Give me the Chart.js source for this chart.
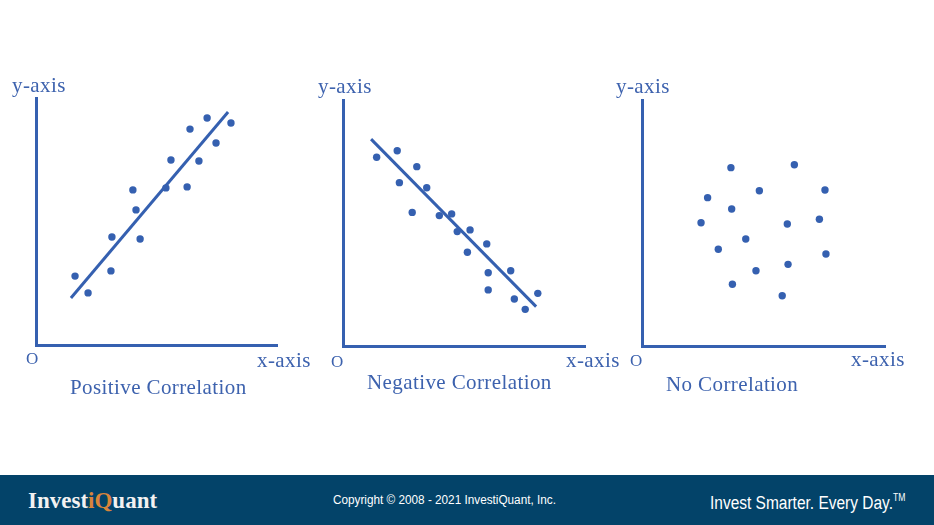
<!DOCTYPE html>
<html lang="en">
<head>
    <meta charset="UTF-8">
    <title>Correlation Scatter Plots</title>
    <script src="https://cdn.jsdelivr.net/npm/chart.js"></script>
    <style>
        body {
            margin: 0;
            width: 934px;
            height: 525px;
            position: relative;
            overflow: hidden;
            background: #ffffff;
        }
        .plot {
            position: absolute;
            top: 60px;
            width: 310px;
            height: 300px;
        }
        .lbl {
            position: absolute;
            font-family: "Liberation Serif", "Times New Roman", serif;
            font-size: 21px;
            line-height: 21px;
            color: #3d62ae;
            white-space: nowrap;
            letter-spacing: 0.4px;
        }
        .origin {
            font-size: 17px;
            line-height: 17px;
        }
        #footer {
            position: absolute;
            left: 0;
            top: 475px;
            width: 934px;
            height: 50px;
            background: #034369;
            color: #ffffff;
        }
        #footer div {
            position: absolute;
            white-space: nowrap;
        }
        #logo {
            left: 28px;
            top: 14px;
            font-family: "Liberation Serif", "Times New Roman", serif;
            font-weight: bold;
            font-size: 23px;
            line-height: 23px;
            color: #f2f2f2;
        }
        #logo span { color: #d9843b; }
        #copy {
            left: 333px;
            top: 19px;
            font-family: "Liberation Sans", Arial, sans-serif;
            font-size: 12.5px;
            line-height: 13px;
            transform: scaleX(0.94);
            transform-origin: left top;
        }
        #slogan {
            left: 710px;
            top: 14px;
            font-family: "Liberation Sans", Arial, sans-serif;
            font-size: 18px;
            line-height: 18px;
            transform: scaleX(0.86);
            transform-origin: left top;
        }
        #slogan sup { font-size: 10px; vertical-align: 8px; }
    </style>
</head>
<body>

<div class="plot" style="left:0px;"><canvas id="posChart"></canvas></div>
<div class="plot" style="left:305px;"><canvas id="negChart"></canvas></div>
<div class="plot" style="left:610px;"><canvas id="noneChart"></canvas></div>

<!-- labels round each plot -->
<div class="lbl" style="left:12px; top:75px;">y-axis</div>
<div class="lbl origin" style="left:26px; top:350px;">O</div>
<div class="lbl" style="left:257px; top:350px;">x-axis</div>
<div class="lbl" style="left:70px; top:377px;">Positive Correlation</div>

<div class="lbl" style="left:318px; top:76px;">y-axis</div>
<div class="lbl origin" style="left:331px; top:353px;">O</div>
<div class="lbl" style="left:566px; top:350px;">x-axis</div>
<div class="lbl" style="left:367px; top:372px;">Negative Correlation</div>

<div class="lbl" style="left:616px; top:76px;">y-axis</div>
<div class="lbl origin" style="left:630px; top:352px;">O</div>
<div class="lbl" style="left:851px; top:349px;">x-axis</div>
<div class="lbl" style="left:666px; top:374px;">No Correlation</div>

<div id="footer">
    <div id="logo">Invest<span>iQ</span>uant</div>
    <div id="copy">Copyright © 2008 - 2021 InvestiQuant, Inc.</div>
    <div id="slogan">Invest Smarter. Every Day.<sup>TM</sup></div>
</div>

<script>
    // Positive correlation
    const posX = [1.62, 2.16, 3.11, 3.15, 4.02, 4.15, 4.32, 5.39, 5.60, 6.27, 6.39, 6.76, 7.10, 7.47, 8.09];
    const posY = [2.79, 2.11, 3.00, 4.37, 6.28, 5.47, 4.29, 6.36, 7.49, 6.40, 8.74, 7.45, 9.19, 8.18, 8.99];
    const posLineX = [1.45, 7.97];
    const posLineY = [1.90, 9.43];

    // Negative correlation
    const negX = [1.39, 2.24, 2.33, 3.05, 2.86, 3.46, 3.98, 4.49, 4.72, 5.25, 5.14, 5.94, 6.00, 6.00, 6.93, 7.08, 7.53, 8.05];
    const negY = [7.67, 7.94, 6.64, 7.29, 5.43, 6.43, 5.30, 5.37, 4.65, 4.72, 3.81, 4.15, 2.98, 2.28, 3.06, 1.91, 1.49, 2.14];
    const negLineX = [1.16, 7.98];
    const negLineY = [8.41, 1.60];

    // No correlation
    const noneX = [3.66, 6.27, 4.83, 7.53, 2.70, 3.69, 2.43, 5.98, 7.30, 4.27, 3.14, 7.57, 6.01, 4.69, 3.72, 5.77];
    const noneY = [7.25, 7.37, 6.31, 6.34, 6.03, 5.57, 5.01, 4.96, 5.15, 4.35, 3.93, 3.74, 3.32, 3.06, 2.51, 2.04];

    const blue = '#3560b0';

    function toPoints(xs, ys) {
        return xs.map((x, i) => ({ x: x, y: ys[i] }));
    }

    function makeChart(id, xs, ys, lineX, lineY, pad) {
        const datasets = [{
            data: toPoints(xs, ys),
            pointRadius: 3.7,
            pointBackgroundColor: blue,
            pointBorderWidth: 0
        }];
        if (lineX) {
            datasets.push({
                data: toPoints(lineX, lineY),
                showLine: true,
                borderColor: blue,
                borderWidth: 3,
                pointRadius: 0
            });
        }
        const axis = {
            type: 'linear',
            min: 0,
            max: 10,
            grid: { display: false, drawTicks: false },
            ticks: { display: false },
            border: { display: true, color: blue, width: 3 }
        };
        return new Chart(document.getElementById(id), {
            type: 'scatter',
            data: { datasets: datasets },
            options: {
                responsive: true,
                maintainAspectRatio: false,
                animation: false,
                layout: { padding: pad },
                plugins: { legend: { display: false }, tooltip: { enabled: false } },
                scales: { x: axis, y: axis }
            }
        });
    }

    makeChart('posChart', posX, posY, posLineX, posLineY, { left: 36, top: 38, right: 33, bottom: 15 });
    makeChart('negChart', negX, negY, negLineX, negLineY, { left: 38, top: 40, right: 30, bottom: 14 });
    makeChart('noneChart', noneX, noneY, null, null, { left: 32, top: 40, right: 35, bottom: 14 });
</script>

</body>
</html>
